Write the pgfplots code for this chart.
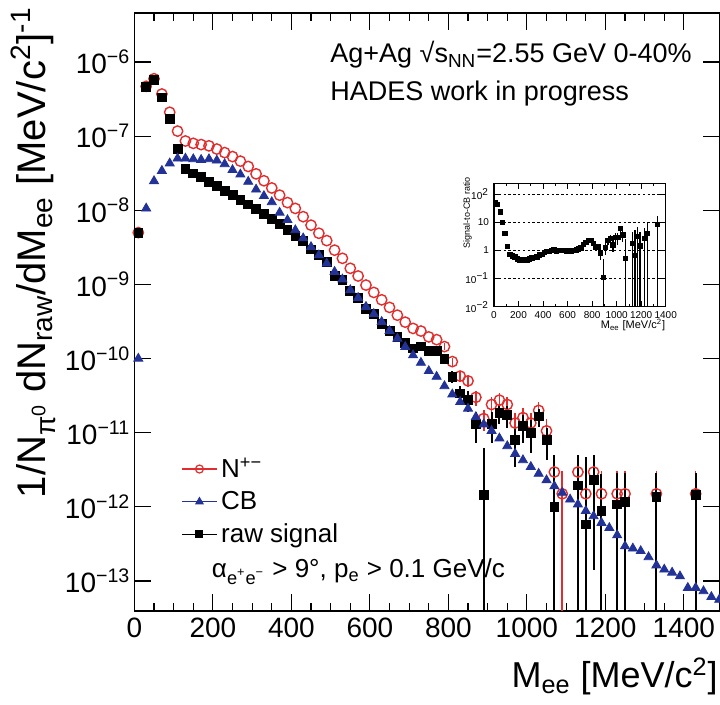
\documentclass[border=0pt]{standalone}
\usepackage{pgfplots}
\pgfplotsset{compat=1.18}
\usepackage{fontspec}
\setmainfont{Liberation Sans}
\definecolor{nred}{RGB}{225,45,45}
\definecolor{cbblue}{RGB}{35,50,150}
\begin{document}
\begin{tikzpicture}
\useasboundingbox (0,0) rectangle (360pt,352.5pt);
\begin{axis}[
  at={(67.2pt,47pt)}, anchor=south west,
  scale only axis, width=292.8pt, height=299pt,
  xmin=0, xmax=1492, ymode=log, log basis y=10,
  ymin=3.94e-14, ymax=4.58e-6,
  xtick={0,200,...,1400}, minor x tick num=3,
  ytickten={-13,...,-6},
  yticklabel={10\textsuperscript{\pgfmathtruncatemacro\ee{round(\tick)}\ifnum\ee<0 −\number-\ee\else\ee\fi}},
  /pgf/number format/assume math mode=true,
  /pgf/number format/1000 sep={},
  tick align=inside, major tick length=8.5pt, minor tick length=4pt,
  every tick/.style={black, line width=0.6pt},
  axis line style={line width=0.9pt},
  tick label style={font=\fontsize{14}{14}\selectfont},
  yticklabel style={xshift=1.5pt},
  legend style={at={(rel axis cs:0.07,0.27)}, anchor=north west, draw=none, fill=none,
    font=\fontsize{13}{13}\selectfont, row sep=1.5pt},
  legend cell align=left,
]
% N+- (red open circles)
\addplot[forget plot, nred, only marks, mark=o, mark size=2.6pt, mark options={line width=0.7pt},
  error bars/.cd, y dir=both, y explicit, error mark=none, error bar style={nred, line width=0.8pt}]
coordinates {
(10,5.0e-9) (30,4.7e-7) (50,5.95e-7) (70,3.7e-7) (90,2.1e-7) (110,1.17e-7) (130,8.6e-8)
(150,8.0e-8) (170,7.7e-8) (190,7.4e-8) (210,6.7e-8) (230,6.0e-8) (250,5.3e-8) (270,4.6e-8)
(290,3.9e-8) (310,3.1e-8) (330,2.5e-8) (350,2.0e-8) (370,1.6e-8) (390,1.27e-8) (410,1.06e-8)
(430,8.2e-9) (450,6.3e-9) (470,4.9e-9) (490,3.9e-9) (510,2.9e-9) (530,2.25e-9) (550,1.65e-9)
(570,1.3e-9) (590,9.8e-10) (610,7.8e-10) (630,6.2e-10) (650,4.9e-10) (670,3.85e-10)
(690,3.1e-10) (710,2.55e-10) (730,2.35e-10) (750,1.96e-10) (770,1.8e-10)
(790,1.45e-10) +- (0,1.5e-11)
(810,9.1e-11) +- (0,1.2e-11)
(830,5.8e-11) +- (0,1.0e-11)
(850,5.0e-11) +- (0,0.9e-11)
(870,3.0e-11) +- (0,0.7e-11)
(890,1.55e-11) +- (0,0.5e-11)
(910,2.4e-11) +- (0,0.65e-11)
(930,2.75e-11) +- (0,0.7e-11)
(950,2.4e-11) +- (0,0.65e-11)
(970,1.35e-11) +- (0,0.5e-11)
(990,1.6e-11) +- (0,0.55e-11)
(1010,1.35e-11) +- (0,0.5e-11)
(1030,2.0e-11) +- (0,0.6e-11)
(1050,1.06e-11) +- (0,0.45e-11)
(1070,2.95e-12) +- (0,2.1e-12)
(1090,1.5e-12) += (0,1.5e-12) -= (0,1.49e-12)
(1130,2.95e-12) +- (0,2.1e-12)
(1150,1.5e-12) += (0,1.5e-12) -= (0,1.49e-12)
(1170,2.95e-12) +- (0,2.1e-12)
(1190,1.5e-12) += (0,1.5e-12) -= (0,1.49e-12)
(1230,1.5e-12) += (0,1.5e-12) -= (0,1.49e-12)
(1250,1.5e-12) += (0,1.5e-12) -= (0,1.49e-12)
(1330,1.5e-12) += (0,1.5e-12) -= (0,1.49e-12)
(1430,1.5e-12) += (0,1.5e-12) -= (0,1.49e-12)
};
% raw signal (black squares)
\addplot[forget plot, black, only marks, mark=square*, mark size=2.2pt,
  error bars/.cd, y dir=both, y explicit, error mark=none, error bar style={black, line width=1pt}]
coordinates {
(10,4.9e-9) (30,4.6e-7) (50,5.7e-7) (70,3.34e-7) (90,1.7e-7) (110,6.8e-8) (130,3.6e-8)
(150,3.15e-8) (170,2.83e-8) (190,2.43e-8) (210,2.14e-8) (230,1.83e-8) (250,1.6e-8)
(270,1.38e-8) (290,1.2e-8) (310,1.04e-8) (330,8.9e-9) (350,7.6e-9) (370,6.5e-9)
(390,5.4e-9) (410,4.5e-9) (430,3.9e-9) (450,2.96e-9) (470,2.5e-9) (490,2.0e-9)
(510,1.3e-9) (530,1.15e-9) (550,8.2e-10) (570,6.6e-10) (590,4.7e-10) (610,3.97e-10)
(630,2.97e-10) (650,2.37e-10) (670,1.96e-10) (690,1.63e-10) (710,1.37e-10)
(730,1.46e-10) +- (0,0.1e-10)
(750,1.28e-10) +- (0,0.1e-10)
(770,1.27e-10) +- (0,0.1e-10)
(790,9.8e-11) +- (0,1.2e-11)
(810,5.7e-11) +- (0,1.0e-11)
(830,3.4e-11) +- (0,0.85e-11)
(850,2.8e-11) +- (0,0.9e-11)
(870,1.33e-11) +- (0,0.6e-11)
(890,1.44e-12) += (0,4.8e-12) -= (0,1.43e-12)
(910,1.33e-11) +- (0,0.6e-11)
(930,1.85e-11) +- (0,0.55e-11)
(950,1.72e-11) +- (0,0.57e-11)
(970,8.1e-12) += (0,3.3e-12) -= (0,4.6e-12)
(990,1.23e-11) +- (0,0.5e-11)
(1010,1.0e-11) +- (0,0.47e-11)
(1030,1.66e-11) +- (0,0.45e-11)
(1050,8.1e-12) += (0,3.3e-12) -= (0,3.8e-12)
(1070,1.0e-12) += (0,4.0e-12) -= (0,0.99e-12)
(1130,1.95e-12) += (0,3.05e-12) -= (0,1.94e-12)
(1150,5.8e-13) += (0,4.1e-12) -= (0,5.7e-13)
(1170,2.3e-12) += (0,2.7e-12) -= (0,2.16e-12)
(1190,8.9e-13) += (0,1.9e-12) -= (0,8.8e-13)
(1230,1.08e-12) += (0,1.8e-12) -= (0,1.07e-12)
(1250,1.18e-12) += (0,1.7e-12) -= (0,1.17e-12)
(1330,1.35e-12) += (0,1.53e-12) -= (0,1.34e-12)
(1430,1.44e-12) += (0,1.44e-12) -= (0,1.43e-12)
};
% CB (blue triangles)
\addplot[forget plot, cbblue, only marks, mark=triangle*, mark size=2.6pt]
coordinates {
(10,1.0e-10) (30,1.06e-8) (50,2.48e-8) (70,3.41e-8) (90,4.3e-8) (110,5.0e-8) (130,5.0e-8)
(150,4.9e-8) (170,4.8e-8) (190,4.9e-8) (210,4.7e-8) (230,4.2e-8) (250,3.5e-8) (270,3.05e-8)
(290,2.43e-8) (310,1.91e-8) (330,1.56e-8) (350,1.29e-8) (370,9.3e-9) (390,7.4e-9)
(410,5.4e-9) (430,4.2e-9) (450,3.2e-9) (470,2.48e-9) (490,1.92e-9) (510,1.48e-9)
(530,1.17e-9) (550,8.4e-10) (570,6.6e-10) (590,5.0e-10) (610,4.0e-10) (630,3.13e-10)
(650,2.37e-10) (670,1.86e-10) (690,1.44e-10) (710,1.11e-10) (730,8.8e-11) (750,6.8e-11)
(770,5.7e-11) (790,4.26e-11) (810,3.3e-11) (830,2.6e-11) (850,2.12e-11) (870,1.63e-11)
(890,1.30e-11) (910,1.06e-11) (930,8.4e-12) (950,6.6e-12) (970,5.2e-12) (990,4.27e-12)
(1010,3.47e-12) (1030,2.8e-12) (1050,2.29e-12) (1070,1.9e-12) (1090,1.55e-12)
(1110,1.26e-12) (1130,1.08e-12) (1150,8.8e-13) (1170,7.5e-13) (1190,6.1e-13)
(1210,5.2e-13) (1230,4.15e-13) (1250,2.95e-13) (1270,2.75e-13) (1290,2.54e-13)
(1310,2.1e-13) (1330,1.63e-13) (1350,1.43e-13) (1370,1.3e-13) (1390,1.16e-13)
(1410,8.1e-14) (1430,8.1e-14) (1450,7.3e-14) (1470,6.1e-14) (1490,5.6e-14)
};
\addlegendimage{nred, sharp plot, mark=o, mark size=2pt, line width=0.6pt}
\addlegendentry{N\textsuperscript{+−}}
\addlegendimage{cbblue, sharp plot, mark=triangle*, mark size=2pt, line width=0.6pt}
\addlegendentry{CB}
\addlegendimage{black, sharp plot, mark=square*, mark size=1.7pt, line width=0.6pt}
\addlegendentry{raw signal}
\end{axis}

% inset: signal-to-CB ratio
\begin{axis}[
  at={(247pt,199.15pt)}, anchor=south west, scale only axis,
  width=85.85pt, height=61.7pt,
  xmin=0, xmax=1400, ymode=log, log basis y=10, ymin=0.01, ymax=240,
  xtick={0,200,...,1400}, minor x tick num=1,
  ytick={0.01,0.1,1,10,100},
  yticklabels={10\textsuperscript{−2},10\textsuperscript{−1},1,10,10\textsuperscript{2}},
  /pgf/number format/assume math mode=true,
  /pgf/number format/1000 sep={},
  tick align=inside, major tick length=3pt, minor tick length=1.5pt,
  every tick/.style={black, line width=0.4pt},
  axis line style={line width=0.6pt},
  tick label style={font=\fontsize{5}{5}\selectfont},
  xticklabel style={yshift=1pt}, yticklabel style={xshift=1pt},
  ymajorgrids, grid style={black, line width=0.4pt, dash pattern=on 1.2pt off 1.2pt},
  axis background/.style={fill=white},
]
\addplot[black, only marks, mark=square*, mark size=1.1pt,
  error bars/.cd, y dir=both, y explicit, error mark=none, error bar style={black, line width=0.6pt}]
coordinates {
(10,49) (30,43) (50,23) (70,9.8) (90,3.95) (110,1.36) (130,0.72) (150,0.64) (170,0.59)
(190,0.50) (210,0.455) (230,0.436) (250,0.457) (270,0.46) (290,0.50) (310,0.54) (330,0.57)
(350,0.59) (370,0.70) (390,0.73) (410,0.83) (430,0.93) (450,0.925) (470,1.0) (490,1.04)
(510,0.9) (530,0.98) (550,0.98) (570,1.0) (590,0.94) (610,0.99) (630,0.95) (650,1.0)
(670,1.05) (690,1.13) (710,1.23)
(730,1.66) +- (0,0.15)
(750,1.88) +- (0,0.17)
(770,2.2) +- (0,0.2)
(790,2.3) +- (0,0.3)
(810,1.73) +- (0,0.3)
(830,1.3) +- (0,0.33)
(850,1.32) +- (0,0.42)
(870,0.82) +- (0,0.37)
(890,0.11) += (0,0.37) -= (0,0.109)
(910,1.25) +- (0,0.56)
(930,2.2) +- (0,0.65)
(950,2.6) +- (0,0.86)
(970,1.56) +- (0,0.7)
(990,2.9) +- (0,1.2)
(1010,2.9) +- (0,1.35)
(1030,5.9) +- (0,1.6)
(1050,3.5) +- (0,1.5)
(1070,0.53) += (0,2.1) -= (0,0.529)
(1130,1.8) += (0,2.8) -= (0,1.799)
(1150,0.66) += (0,4.7) -= (0,0.659)
(1170,3.07) += (0,3.4) -= (0,3.069)
(1190,1.46) += (0,3.2) -= (0,1.459)
(1230,2.6) += (0,3.6) -= (0,2.599)
(1250,4.0) += (0,5.8) -= (0,3.999)
(1330,8.3) += (0,8.8) -= (0,8.299)
};
\end{axis}

% texts
\node[anchor=west, font=\fontsize{13.5}{13.5}\selectfont, inner sep=0pt] at (165pt,325pt)
  {Ag+Ag √s\textsubscript{NN}=2.55 GeV 0-40\%};
\node[anchor=west, font=\fontsize{13.5}{13.5}\selectfont, inner sep=0pt] at (165pt,305.9pt)
  {HADES work in progress};
\node[anchor=west, font=\fontsize{13}{13}\selectfont, inner sep=0pt] at (105.8pt,66.6pt)
  {α\textsubscript{e\textsuperscript{+}e\textsuperscript{−}} \textgreater{} 9°, p\textsubscript{e} \textgreater{} 0.1 GeV/c};
\node[anchor=base east, font=\fontsize{18}{18}\selectfont, inner sep=0pt] at (359pt,8.5pt)
  {M\textsubscript{ee} [MeV/c\textsuperscript{2}]};
\node[anchor=base east, rotate=90, font=\fontsize{20}{20}\selectfont, inner sep=0pt] at (23pt,349pt)
  {1/N\textsubscript{π\textsuperscript{0}} dN\textsubscript{raw}/dM\textsubscript{ee} [MeV/c\textsuperscript{2}]\textsuperscript{-1}};
\node[anchor=east, font=\fontsize{5.5}{5.5}\selectfont, inner sep=0pt] at (332.8pt,190pt)
  {M\textsubscript{ee} [MeV/c\textsuperscript{2}]};
\node[anchor=north east, rotate=90, font=\fontsize{4.5}{4.5}\selectfont, inner sep=0pt] at (231.5pt,264pt)
  {Signal-to-CB ratio};
\end{tikzpicture}
\end{document}
